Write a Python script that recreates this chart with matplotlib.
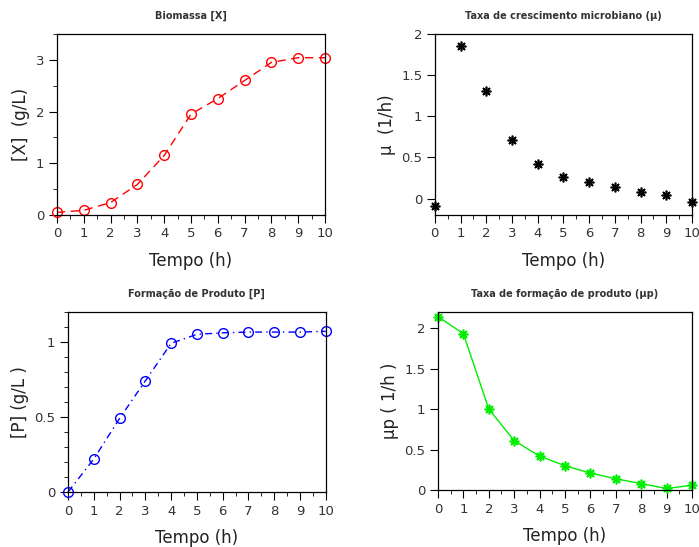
import matplotlib
matplotlib.use("Agg")
import matplotlib.pyplot as plt
from matplotlib.ticker import MultipleLocator, FormatStrFormatter

# tempo (h)
t = [0, 1, 2, 3, 4, 5, 6, 7, 8, 9, 10]
# biomassa [X] (g/L)
X = [0.05, 0.09, 0.24, 0.59, 1.15, 1.95, 2.25, 2.60, 2.95, 3.04, 3.04]
# taxa de crescimento mu (1/h)
mu = [-0.09, 1.85, 1.31, 0.71, 0.42, 0.26, 0.20, 0.14, 0.08, 0.04, -0.04]
# produto [P] (g/L)
P = [0.0, 0.22, 0.49, 0.74, 0.99, 1.05, 1.06, 1.065, 1.065, 1.065, 1.07]
# taxa de formacao de produto mup (1/h)
mup = [2.14, 1.93, 1.00, 0.61, 0.42, 0.30, 0.21, 0.14, 0.08, 0.02, 0.06]

fig = plt.figure(figsize=(6.99, 5.47), dpi=100)
ast = (8, 2, 0)


def style(ax, title, ylabel, ylim, ymaj, ymin=None):
    ax.set_xlim(0, 10)
    ax.set_ylim(*ylim)
    ax.xaxis.set_major_locator(MultipleLocator(1))
    ax.xaxis.set_minor_locator(MultipleLocator(0.5))
    ax.yaxis.set_major_locator(MultipleLocator(ymaj))
    ax.yaxis.set_major_formatter(FormatStrFormatter("%g"))
    if ymin:
        ax.yaxis.set_minor_locator(MultipleLocator(ymin))
    ax.tick_params(which="major", direction="out", length=6, labelsize=9.5, pad=3,
                   labelcolor="#333333")
    ax.tick_params(which="minor", direction="out", length=3)
    ax.set_xlabel("Tempo (h)", fontsize=12, labelpad=8, color="#222222")
    ax.set_ylabel(ylabel, fontsize=12, color="#222222")
    ax.set_title(title, fontsize=7, pad=11, fontweight="semibold", color="#333333")
    for s in ax.spines.values():
        s.set_linewidth(0.9)


ax1 = fig.add_axes([0.0815, 0.607, 0.3835, 0.331])
ax1.plot(t, X, color="red", lw=1, dashes=(6, 4), marker="o", ms=7, mfc="none", mew=1)
style(ax1, "Biomassa [X]", "[X]  (g/L)", (0, 3.5), 1, 0.5)

ax2 = fig.add_axes([0.622, 0.607, 0.368, 0.331])
ax2.plot(t, mu, ls="none", color="black", marker=ast, ms=7, mew=1.2)
style(ax2, "Taxa de crescimento microbiano (\u00b5)", "\u00b5  (1/h)", (-0.2, 2), 0.5)

ax3 = fig.add_axes([0.0973, 0.1005, 0.3687, 0.3295])
ax3.plot(t, P, color="blue", lw=1, dashes=(5, 3, 1, 3), marker="o", ms=7, mfc="none", mew=1)
style(ax3, "Forma\u00e7\u00e3o de Produto [P]", "[P] (g/L )", (0, 1.2), 0.5, 0.1)

ax4 = fig.add_axes([0.6266, 0.104, 0.3634, 0.326])
ax4.plot(t, mup, color="#00ee00", lw=1, marker=ast, ms=7, mew=1.2)
style(ax4, "Taxa de forma\u00e7\u00e3o de produto (\u00b5p)", "\u00b5p ( 1/h )", (0, 2.2), 0.5)

for ax in (ax1, ax2, ax3, ax4):
    for ln in ax.lines:
        ln.set_clip_on(False)

fig.savefig("out.png", dpi=100)
